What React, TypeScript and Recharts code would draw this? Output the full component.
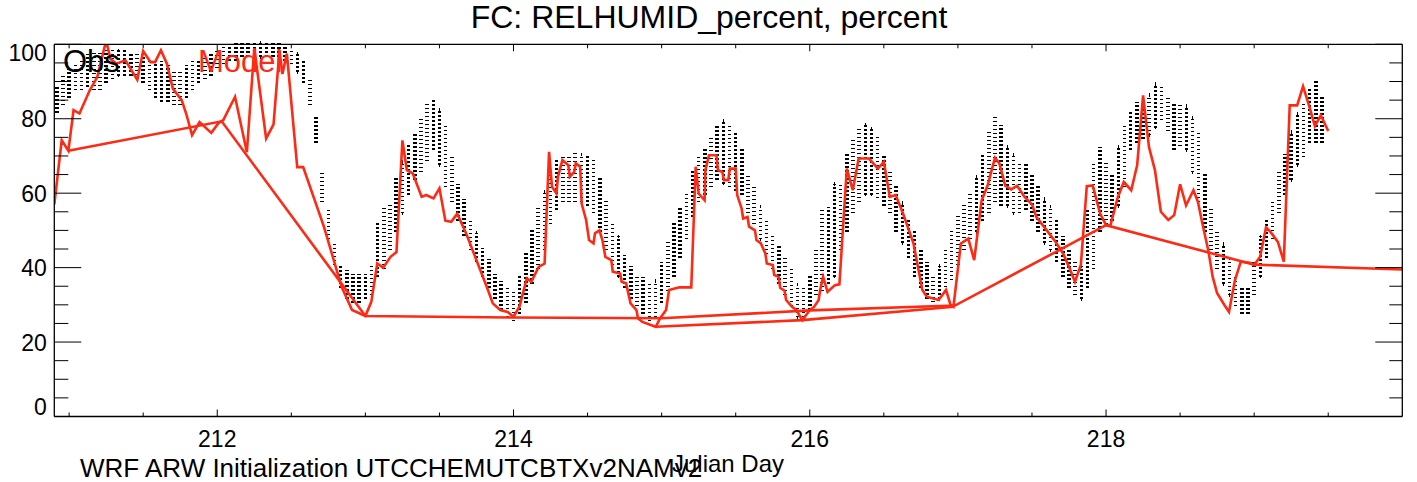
import React from "react";
import { ComposedChart, ErrorBar, Line, Scatter, XAxis, YAxis } from "recharts";

const W = 1417;
const H = 482;
const FONT = "'Liberation Sans', Arial, Helvetica, sans-serif";
const RED = "#ff2a14";

// hourly obs envelope (lowest / highest site value), first hour is day 210 22Z
const obsStart = 210 + 22 / 24;
const obsLo = [
  82, 84,
  86, 88, 88, 89, 88, 88, 90, 91, 92, 92, 92, 91, 90, 88, 86, 85, 85, 84, 84, 86, 88, 90, 91, 92,
  94, 95, 96, 96, 97, 97, 97, 97, 97, 97, 97, 96, 95, 93, 90, 84, 74, 58, 48, 41, 35, 32, 31, 31,
  32, 33, 38, 40, 45, 50, 55, 60, 64, 66, 69, 72, 68, 62, 58, 53, 49, 45, 42, 38, 35, 32, 29, 27,
  26, 28, 31, 36, 40, 45, 52, 56, 58, 58, 58, 58, 57, 55, 50, 45, 41, 38, 35, 32, 30, 28, 26, 27,
  31, 34, 38, 43, 48, 54, 58, 60, 62, 64, 63, 62, 61, 60, 55, 52, 48, 44, 40, 36, 33, 30, 27, 26,
  29, 33, 34, 36, 38, 45, 50, 55, 58, 60, 60, 59, 57, 55, 50, 47, 43, 38, 35, 32, 30, 32, 34, 37,
  41, 45, 48, 50, 53, 55, 58, 57, 57, 55, 55, 56, 53, 50, 47, 45, 42, 38, 35, 33, 32, 35, 40, 50,
  52, 53, 57, 62, 72, 74, 75, 76, 78, 80, 77, 72, 73, 72, 66, 58, 50, 45, 40, 36, 33, 30, 28, 28,
  33, 38, 43, 48, 55, 60, 64, 68, 70, 74, 74, 74,
];
const obsHi = [
  88, 91,
  93, 94, 96, 97, 98, 98, 98, 98, 98, 98, 97, 97, 97, 96, 95, 95, 94, 93, 93, 94, 95, 95, 96, 97,
  98, 99, 99, 100, 100, 100, 100, 100, 100, 100, 100, 99, 98, 97, 95, 90, 80, 65, 56, 46, 40, 39, 38, 38,
  38, 40, 52, 56, 57, 64, 68, 73, 76, 80, 84, 85, 82, 78, 70, 62, 58, 53, 49, 45, 42, 38, 36, 34,
  33, 38, 44, 50, 56, 60, 66, 69, 70, 70, 71, 70, 70, 69, 64, 58, 52, 48, 43, 40, 38, 37, 36, 36,
  41, 47, 52, 56, 60, 66, 70, 72, 75, 78, 79, 78, 76, 72, 65, 62, 56, 52, 49, 46, 43, 40, 35, 34,
  38, 45, 55, 56, 62, 62, 70, 74, 77, 78, 77, 75, 70, 66, 62, 57, 53, 50, 45, 41, 38, 40, 45, 50,
  54, 57, 60, 64, 70, 76, 80, 78, 72, 70, 68, 68, 65, 62, 58, 56, 53, 48, 45, 42, 40, 55, 68, 72,
  68, 65, 72, 78, 82, 84, 83, 86, 89, 89, 86, 84, 84, 83, 80, 76, 65, 56, 50, 46, 42, 37, 34, 34,
  42, 48, 53, 58, 66, 70, 76, 81, 84, 88, 90, 86,
];

// model run, [julian day, percent]
const modelHourly: [number, number][] = [
  [210.9, 57], [210.95, 74.2], [210.995, 71.4], [211.03, 82.3], [211.07, 81.4], [211.14, 87.7],
  [211.19, 91.2], [211.25, 101], [211.28, 96], [211.32, 94.8], [211.38, 95.7], [211.46, 90.5],
  [211.5, 98.2], [211.55, 95.2], [211.58, 95.2], [211.62, 98.4], [211.66, 94.8], [211.7, 88.1],
  [211.76, 85], [211.79, 81.4], [211.83, 75.6], [211.88, 79.1], [211.96, 76.2], [212.01, 78.9],
  [212.04, 79.6], [212.12, 85.9], [212.2, 71], [212.25, 99], [212.33, 74.7], [212.38, 78.5],
  [212.42, 98.4], [212.44, 92], [212.47, 97.5], [212.54, 67], [212.58, 67], [212.65, 59],
  [212.72, 51], [212.78, 42.9], [212.84, 34.8], [212.91, 28.6], [213.0, 27],
  [213.04, 30.8], [213.08, 41.1], [213.12, 40], [213.17, 42.9], [213.21, 44.2], [213.25, 74.2],
  [213.28, 66.2], [213.32, 65.3], [213.38, 59], [213.41, 59.5], [213.46, 58.6], [213.5, 61.3],
  [213.54, 52.6], [213.58, 52.3], [213.62, 54.5], [213.68, 49.2], [213.75, 42], [213.82, 34.8],
  [213.86, 30.4], [213.91, 28.6], [213.96, 28.1], [214.0, 26.8], [214.04, 29.5], [214.09, 37.1],
  [214.12, 36.2], [214.17, 40.2], [214.21, 41.1], [214.24, 71.1], [214.26, 61.7], [214.29, 59.9],
  [214.3, 64.4], [214.33, 68.9], [214.37, 67.5], [214.38, 64.4], [214.41, 65.7], [214.42, 68],
  [214.45, 67.1], [214.46, 57.2], [214.49, 52.8], [214.51, 47.4], [214.54, 46.5], [214.55, 49.2],
  [214.58, 50], [214.6, 47.4], [214.62, 42.9], [214.66, 42], [214.67, 38.9], [214.72, 38.4],
  [214.73, 36.2], [214.76, 35.8], [214.78, 32.2], [214.79, 30.4], [214.83, 28.6], [214.84, 26.4],
  [214.87, 25.4], [214.96, 24.1], [214.99, 26.4], [215.03, 28.6], [215.05, 34], [215.12, 34.7],
  [215.2, 34.7], [215.23, 67.1], [215.25, 59.9], [215.29, 58.1], [215.295, 66.2], [215.32, 70.2],
  [215.37, 70.2], [215.38, 66.2], [215.41, 65.7], [215.42, 63.5], [215.45, 63.5], [215.46, 66.6],
  [215.5, 66.6], [215.51, 59.5], [215.54, 55.9], [215.55, 53.2], [215.58, 53.6], [215.59, 51],
  [215.63, 50], [215.64, 47.4], [215.67, 46.5], [215.7, 43.8], [215.71, 41.1], [215.75, 40.7],
  [215.76, 38], [215.79, 37.5], [215.8, 34.6], [215.83, 33.8], [215.84, 31.3], [215.88, 29.5],
  [215.91, 28.6], [215.93, 27.2], [215.95, 25.9], [216.0, 28.6], [216.03, 29.5], [216.06, 31.3],
  [216.07, 34], [216.09, 37.5], [216.12, 33.5], [216.17, 35.3], [216.2, 35.5], [216.25, 66.6],
  [216.29, 60.8], [216.33, 69.3], [216.4, 69.3], [216.46, 66.6], [216.5, 68.4], [216.54, 59],
  [216.58, 59.5], [216.63, 54.5], [216.7, 46.5], [216.76, 34], [216.79, 32.2], [216.87, 31.3],
  [216.92, 34], [216.95, 30], [216.97, 29.5], [217.02, 46.5], [217.07, 47.8], [217.11, 42],
  [217.16, 58], [217.2, 62], [217.25, 69.5], [217.28, 68], [217.32, 62], [217.36, 61],
  [217.4, 62], [217.45, 59], [217.5, 57], [217.53, 53.6], [217.6, 50], [217.66, 46.9],
  [217.71, 43.8], [217.75, 40.2], [217.79, 36.2], [217.83, 40.7], [217.87, 61.9], [217.91, 62.1],
  [217.96, 54.5], [218.0, 51.4], [218.03, 51.4], [218.08, 59], [218.12, 63], [218.17, 60.8],
  [218.21, 67.5], [218.25, 86.3], [218.29, 72.4], [218.33, 66.2], [218.37, 55], [218.42, 52.8],
  [218.46, 54.1], [218.5, 62.4], [218.54, 56.7], [218.59, 60.8], [218.62, 57.7], [218.65, 51.9],
  [218.69, 44.7], [218.72, 37.5], [218.75, 33.1], [218.8, 29.9], [218.83, 28.1], [218.87, 36.6],
  [218.91, 41.6], [218.97, 41.3], [219.0, 40.7], [219.04, 42.9], [219.08, 50.8], [219.11, 49.6],
  [219.16, 46.9], [219.2, 41.6], [219.24, 83.6], [219.29, 83.6], [219.33, 88.7], [219.37, 83.6],
  [219.41, 78], [219.45, 80.9], [219.5, 76.7],
];
// 00Z values joined day to day
const modelDaily: [number, number][] = [
  [210.995, 71.4], [212.03, 79.3], [213.0, 27], [214.0, 26.6], [215.0, 26.4],
  [216.0, 28.5], [216.98, 29.8], [218.0, 51.4], [219.0, 40.8], [220.0, 39.5],
];
const modelDailyB: [number, number][] = [
  [214.96, 24.1], [215.95, 25.9], [216.97, 29.5],
];

const xMajor = [212, 214, 216, 218];
const xTicks = [211, 211.5, 212, 212.5, 213, 213.5, 214, 214.5, 215, 215.5, 216, 216.5, 217, 217.5, 218, 218.5, 219, 219.5];
const yTicks = [0, 5, 10, 15, 20, 25, 30, 35, 40, 45, 50, 55, 60, 65, 70, 75, 80, 85, 90, 95, 100];

const obsData = obsLo.map((lo, i) => ({
  x: obsStart + i / 24,
  y: (lo + obsHi[i]) / 2,
  half: (obsHi[i] - lo) / 2 + 0.4,
}));
const toPts = (arr: [number, number][]) => arr.map(([x, y]) => ({ x, y }));

const BottomTick = (p: any) => {
  const major = xMajor.includes(p.payload.value);
  return (
    <g>
      <line x1={p.x} x2={p.x} y1={p.y} y2={p.y - (major ? 7 : 4)} stroke="#000" strokeWidth={1} />
      {major && (
        <text x={p.x} y={p.y + 30} textAnchor="middle" fontSize={23} fontFamily={FONT} fill="#000">
          {p.payload.value}
        </text>
      )}
    </g>
  );
};
const TopTick = (p: any) => {
  const major = xMajor.includes(p.payload.value);
  return <line x1={p.x} x2={p.x} y1={p.y} y2={p.y + (major ? 7 : 4)} stroke="#000" strokeWidth={1} />;
};
const LeftTick = (p: any) => {
  const v = p.payload.value;
  const major = v % 20 === 0;
  const dy = v === 0 ? -1.5 : v === 100 ? 16.5 : 8.5;
  return (
    <g>
      <line x1={p.x} x2={p.x + (major ? 27 : 14)} y1={p.y} y2={p.y} stroke="#000" strokeWidth={1} />
      {major && (
        <text x={p.x - 7.5} y={p.y + dy} textAnchor="end" fontSize={23} fontFamily={FONT} fill="#000">
          {v}
        </text>
      )}
    </g>
  );
};
const RightTick = (p: any) => {
  const major = p.payload.value % 20 === 0;
  return <line x1={p.x} x2={p.x - (major ? 27 : 13)} y1={p.y} y2={p.y} stroke="#000" strokeWidth={1} />;
};

const axisLine = { stroke: "#000", strokeWidth: 1.3 };

export default function App() {
  return (
    <div style={{ position: "absolute", left: 0, top: 0, width: W, height: H, background: "#fff" }}>
      <ComposedChart
        width={W}
        height={H}
        margin={{ top: 34.3, right: 4.7, bottom: 55.5, left: 44.3 }}
      >
        <XAxis
          xAxisId="b"
          dataKey="x"
          type="number"
          domain={[210.9, 220.0]}
          allowDataOverflow
          ticks={xTicks}
          tick={<BottomTick />}
          tickSize={0}
          tickMargin={0}
          tickLine={false}
          height={10}
          interval={0}
          axisLine={axisLine}
        />
        <XAxis
          xAxisId="t"
          orientation="top"
          dataKey="x"
          type="number"
          domain={[210.9, 220.0]}
          allowDataOverflow
          ticks={xTicks}
          tick={<TopTick />}
          tickSize={0}
          tickMargin={0}
          tickLine={false}
          height={10}
          interval={0}
          axisLine={axisLine}
        />
        <YAxis
          yAxisId="l"
          type="number"
          domain={[0, 100]}
          allowDataOverflow
          ticks={yTicks}
          tick={<LeftTick />}
          tickSize={0}
          tickMargin={0}
          tickLine={false}
          width={10}
          interval={0}
          axisLine={axisLine}
        />
        <YAxis
          yAxisId="r"
          orientation="right"
          type="number"
          domain={[0, 100]}
          allowDataOverflow
          ticks={yTicks}
          tick={<RightTick />}
          tickSize={0}
          tickMargin={0}
          tickLine={false}
          width={10}
          interval={0}
          axisLine={axisLine}
        />
        <Scatter
          data={obsData}
          dataKey="y"
          xAxisId="b"
          yAxisId="l"
          isAnimationActive={false}
          shape={() => <g />}
        >
          <ErrorBar
            dataKey="half"
            direction="y"
            width={0}
            stroke="#000"
            strokeWidth={3.5}
            strokeDasharray="1.6 2.4"
            shapeRendering="crispEdges"
            isAnimationActive={false}
          />
        </Scatter>
        <Line
          data={toPts(modelDaily)}
          dataKey="y"
          xAxisId="b"
          yAxisId="l"
          type="linear"
          stroke={RED}
          strokeWidth={2.6}
          dot={false}
          isAnimationActive={false}
        />
        <Line
          data={toPts(modelDailyB)}
          dataKey="y"
          xAxisId="b"
          yAxisId="l"
          type="linear"
          stroke={RED}
          strokeWidth={2.6}
          dot={false}
          isAnimationActive={false}
        />
        <Line
          data={toPts(modelHourly)}
          dataKey="y"
          xAxisId="b"
          yAxisId="l"
          type="linear"
          stroke={RED}
          strokeWidth={2.6}
          strokeLinejoin="miter"
          dot={false}
          isAnimationActive={false}
        />
      </ComposedChart>
      <svg
        width={W}
        height={H}
        style={{ position: "absolute", left: 0, top: 0, pointerEvents: "none" }}
        fontFamily={FONT}
      >
        <text x={709} y={28} textAnchor="middle" fontSize={32} fill="#000">
          FC: RELHUMID_percent, percent
        </text>
        <text x={63} y={71.5} fontSize={31} fill="#000">Obs</text>
        <text x={198} y={71.5} fontSize={31} fill={RED}>Model</text>
        <text x={80} y={476.5} fontSize={26} fill="#000">
          WRF ARW Initialization UTCCHEMUTCBTXv2NAMv2
        </text>
        <text x={728} y={471.5} textAnchor="middle" fontSize={24} fill="#000">
          Julian Day
        </text>
      </svg>
    </div>
  );
}
